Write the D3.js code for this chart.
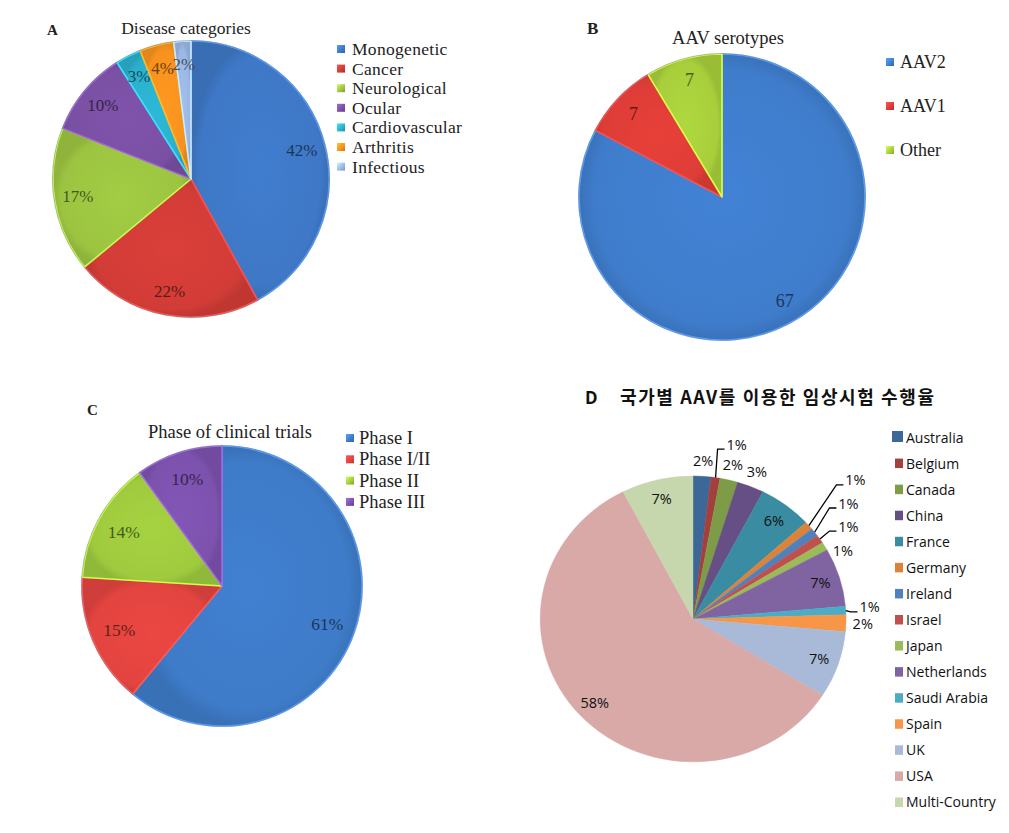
<!DOCTYPE html>
<html>
<head>
<meta charset="utf-8">
<script src="https://cdn.jsdelivr.net/npm/d3@7"></script>
<style>
  html, body { margin: 0; padding: 0; background: #ffffff; }
  svg { display: block; }
</style>
</head>
<body>
<svg id="chart" width="1009" height="833"></svg>
<script>
// ---------------- DATA ----------------
const diseaseCategories = ["Monogenetic", "Cancer", "Neurological", "Ocular", "Cardiovascular", "Arthritis", "Infectious"];
const diseaseValues = [42, 22, 17, 10, 3, 4, 2];

const serotypeCategories = ["AAV2", "AAV1", "Other"];
const serotypeValues = [67, 7, 7];

const phaseCategories = ["Phase I", "Phase I/II", "Phase II", "Phase III"];
const phaseValues = [61, 15, 14, 10];

const countryCategories = ["Australia", "Belgium", "Canada", "China", "France", "Germany", "Ireland", "Israel",
  "Japan", "Netherlands", "Saudi Arabia", "Spain", "UK", "USA", "Multi-Country"];
// estimated trial counts
const countryCounts = [2, 1, 2, 3, 6, 1, 1, 1, 1, 7, 1, 2, 8, 62, 8];
// printed percentage labels
const countryLabels = ["2%", "1%", "2%", "3%", "6%", "1%", "1%", "1%", "1%", "7%", "1%", "2%", "7%", "58%", "7%"];

// ---------------- STYLES ----------------
const diseaseColors = ["#3e78c6", "#d23c37", "#9cc441", "#7a50a4", "#2bb0cc", "#f7921e", "#9ab8e3"];
const serotypeColors = ["#3f7dcc", "#de3d37", "#a8cf3b"];
const phaseColors = ["#3e7bc8", "#e2443f", "#9fca3e", "#7d52ae"];
const countryColors = ["#3d6797", "#a2403d", "#7e9b48", "#664f85", "#3a8ca2", "#d9833b", "#4f81bd", "#c0504d",
  "#9bbb59", "#8064a2", "#4bacc6", "#f79646", "#a9bad8", "#d9a9a8", "#c6d7ad"];

const svg = d3.select("#chart");
svg.append("rect").attr("width", 1009).attr("height", 833).attr("fill", "#ffffff");
const defs = svg.append("defs");

const serif = "'Liberation Serif', 'DejaVu Serif', serif";
const sans = "'Open Sans', 'Noto Sans', sans-serif";

function glossGradient(id, base) {
  const c = d3.color(base);
  const g = defs.append("radialGradient").attr("id", id)
    .attr("cx", "50%").attr("cy", "50%").attr("r", "50%");
  g.append("stop").attr("offset", "0%").attr("stop-color", c.brighter(0.12).formatHex());
  g.append("stop").attr("offset", "88%").attr("stop-color", c.formatHex());
  g.append("stop").attr("offset", "100%").attr("stop-color", c.darker(0.25).formatHex());
  return `url(#${id})`;
}
function squareGradient(id, base) {
  const c = d3.color(base);
  const g = defs.append("linearGradient").attr("id", id)
    .attr("x1", "0").attr("y1", "0").attr("x2", "1").attr("y2", "1");
  g.append("stop").attr("offset", "0%").attr("stop-color", c.brighter(0.8).formatHex());
  g.append("stop").attr("offset", "60%").attr("stop-color", c.formatHex());
  g.append("stop").attr("offset", "100%").attr("stop-color", c.darker(0.6).formatHex());
  return `url(#${id})`;
}

// Glossy pie (panels A, B, C)
function glossyPie(opts) {
  const { id, cx, cy, r, cats, vals, colors, labels, labelR, font, fontSize } = opts;
  const g = svg.append("g").attr("transform", `translate(${cx},${cy})`);
  const pie = d3.pie().sort(null).value(d => d.v)(cats.map((c, i) => ({ c, v: vals[i], i })));
  const arc = d3.arc().innerRadius(0).outerRadius(r);
  const labelArc = d3.arc().innerRadius(r * labelR).outerRadius(r * labelR);

  g.selectAll("path.slice").data(pie).join("path")
    .attr("class", "slice")
    .attr("d", arc)
    .attr("fill", d => glossGradient(`${id}-g${d.data.i}`, colors[d.data.i]))
    .attr("stroke", d => d3.color(colors[d.data.i]).brighter(0.7).formatHex())
    .attr("stroke-width", 1.6)
    .attr("stroke-linejoin", "round");

  g.append("circle").attr("r", r + 0.5).attr("fill", "none")
    .attr("stroke", "#7d8aa0").attr("stroke-opacity", 0.55).attr("stroke-width", 1);

  g.selectAll("text.lbl").data(pie).join("text")
    .attr("class", "lbl")
    .attr("transform", d => `translate(${labelArc.centroid(d)})`)
    .attr("text-anchor", "middle")
    .attr("dominant-baseline", "central")
    .attr("font-family", font)
    .attr("font-size", fontSize)
    .attr("fill", d => d3.color(colors[d.data.i]).darker(2.3).formatHex())
    .text(d => labels(d));
  return g;
}

function glossyLegend(opts) {
  const { id, x, y, dy, cats, colors, fontSize, sq } = opts;
  const g = svg.append("g");
  cats.forEach((c, i) => {
    const yy = y + i * dy;
    g.append("rect").attr("x", x).attr("y", yy - sq / 2).attr("width", sq).attr("height", sq)
      .attr("fill", squareGradient(`${id}-sq${i}`, colors[i]));
    g.append("text").attr("x", x + (opts.gap || 15)).attr("y", yy)
      .attr("dominant-baseline", "central")
      .attr("font-family", serif).attr("font-size", fontSize).attr("fill", "#222")
      .attr("letter-spacing", opts.ls || 0)
      .text(c);
  });
}

// ---------------- PANEL A ----------------
svg.append("text").attr("x", 47).attr("y", 35).attr("font-family", serif).attr("font-size", 15)
  .attr("font-weight", "bold").attr("fill", "#222").text("A");
svg.append("text").attr("x", 186).attr("y", 34).attr("text-anchor", "middle").attr("font-family", serif)
  .attr("font-size", 17.5).attr("fill", "#222").text("Disease categories");
glossyPie({ id: "pa", cx: 191, cy: 179, r: 138, cats: diseaseCategories, vals: diseaseValues,
  colors: diseaseColors, labels: d => d.data.v + "%", labelR: 0.83, font: serif, fontSize: 17 });
glossyLegend({ id: "la", x: 337, y: 49, dy: 19.6, cats: diseaseCategories, colors: diseaseColors, fontSize: 17.5, sq: 8, ls: 0.3 });

// ---------------- PANEL B ----------------
svg.append("text").attr("x", 587).attr("y", 34).attr("font-family", serif).attr("font-size", 17)
  .attr("font-weight", "bold").attr("fill", "#222").text("B");
svg.append("text").attr("x", 728).attr("y", 44).attr("text-anchor", "middle").attr("font-family", serif)
  .attr("font-size", 18.5).attr("fill", "#222").text("AAV serotypes");
glossyPie({ id: "pb", cx: 722, cy: 197, r: 143, cats: serotypeCategories, vals: serotypeValues,
  colors: serotypeColors, labels: d => d.data.v, labelR: 0.85, font: serif, fontSize: 18 });
glossyLegend({ id: "lb", x: 886, y: 62, dy: 44, cats: serotypeCategories, colors: serotypeColors, fontSize: 18, sq: 8, gap: 14 });

// ---------------- PANEL C ----------------
svg.append("text").attr("x", 87).attr("y", 415).attr("font-family", serif).attr("font-size", 15)
  .attr("font-weight", "bold").attr("fill", "#222").text("C");
svg.append("text").attr("x", 230).attr("y", 438).attr("text-anchor", "middle").attr("font-family", serif)
  .attr("font-size", 18.5).attr("fill", "#222").text("Phase of clinical trials");
glossyPie({ id: "pc", cx: 222, cy: 586, r: 140, cats: phaseCategories, vals: phaseValues,
  colors: phaseColors, labels: d => d.data.v + "%", labelR: 0.8, font: serif, fontSize: 17.5 });
glossyLegend({ id: "lc", x: 346, y: 438, dy: 21.3, cats: phaseCategories, colors: phaseColors, fontSize: 18.5, sq: 8, gap: 13 });

// ---------------- PANEL D ----------------
svg.append("text").attr("x", 585).attr("y", 404).attr("font-family", sans).attr("font-size", 17)
  .attr("font-weight", "bold").attr("fill", "#111").text("D");
svg.append("text").attr("x", 620).attr("y", 404).attr("font-family", "'Noto Sans CJK KR', sans-serif")
  .attr("font-size", 18).attr("font-weight", "bold").attr("letter-spacing", 1.6).attr("fill", "#111")
  .text("국가별 AAV를 이용한 임상시험 수행율");

const dcx = 693, dcy = 619, drx = 153, dry = 143;
const insideSet = new Set(["France", "Netherlands", "UK", "USA", "Multi-Country"]);
const dLabelLayout = {
  "Belgium": { angle: 13.1, r: 1.256, leader: true },
  "Germany": { angle: 47.5, r: 1.44, leader: true },
  "Ireland": { angle: 51.4, r: 1.30, leader: true },
  "Israel": { angle: 57.4, r: 1.206, leader: true },
  "Saudi Arabia": { angle: 85.8, r: 1.157, leader: true },
  "Japan": { angle: 64, r: 1.09 }
};
const dPie = d3.pie().sort(null).value(d => d.v)(countryCategories.map((c, i) => ({ c, v: countryCounts[i], i })));
const dArc = d3.arc().innerRadius(0).outerRadius(1);
const gD = svg.append("g").attr("transform", `translate(${dcx},${dcy}) scale(${drx},${dry})`);
gD.selectAll("path").data(dPie).join("path")
  .attr("d", dArc)
  .attr("fill", d => countryColors[d.data.i])
  .attr("stroke", d => countryColors[d.data.i])
  .attr("stroke-width", 0.003);

function ellPoint(angleRad, rf) {
  return [dcx + drx * rf * Math.sin(angleRad), dcy - dry * rf * Math.cos(angleRad)];
}
const gDL = svg.append("g");
dPie.forEach(d => {
  const name = d.data.c;
  const mid = (d.startAngle + d.endAngle) / 2;
  let pos;
  const lay = dLabelLayout[name];
  if (insideSet.has(name)) pos = ellPoint(mid, 0.87);
  else if (lay) pos = ellPoint(lay.angle * Math.PI / 180, lay.r);
  else pos = ellPoint(mid, 1.11);
  gDL.append("text").attr("x", pos[0]).attr("y", pos[1])
    .attr("text-anchor", "middle").attr("dominant-baseline", "central")
    .attr("font-family", sans).attr("font-size", 14.5).attr("fill", "#111")
    .text(countryLabels[d.data.i]);
  if (lay && lay.leader) {
    const start = ellPoint(mid, 1.0);
    const textLeft = pos[0] - 10;
    const ly = pos[1] + 5;
    gDL.append("path")
      .attr("d", d3.line()([start, [textLeft - 9, ly], [textLeft - 2, ly]]))
      .attr("fill", "none").attr("stroke", "#000").attr("stroke-width", 1.3);
  }
});

// legend D
const gDLeg = svg.append("g");
countryCategories.forEach((c, i) => {
  const yy = 437 + i * 26.07;
  const s = i === 0 ? 11 : 8;
  gDLeg.append("rect").attr("x", 903 - s).attr("y", yy - s / 2 - 0.5).attr("width", s).attr("height", i === 0 ? 11 : 9.5)
    .attr("fill", countryColors[i]);
  gDLeg.append("text").attr("x", 906).attr("y", yy).attr("dominant-baseline", "central")
    .attr("font-family", sans).attr("font-size", 14).attr("fill", "#111").text(c);
});
</script>
</body>
</html>
